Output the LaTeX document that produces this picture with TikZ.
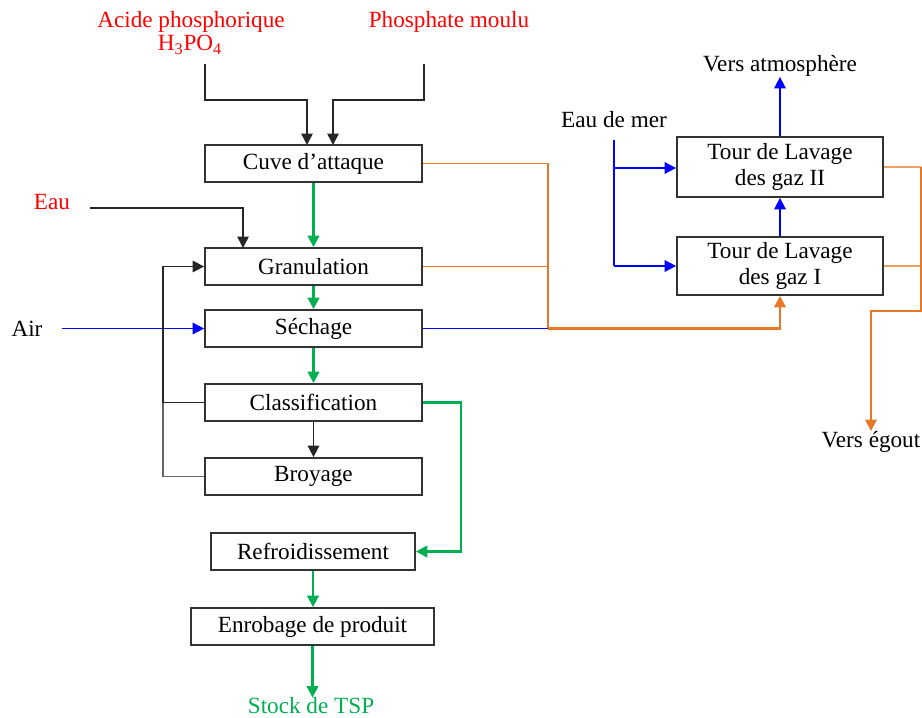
\documentclass[tikz,border=0pt]{standalone}
\usepackage{fontspec}
\setmainfont{Liberation Serif}
\usetikzlibrary{arrows.meta}
\definecolor{cgreen}{RGB}{0,176,80}
\definecolor{corange}{RGB}{230,120,40}
\definecolor{corlight}{RGB}{236,160,100}
\definecolor{cblue}{RGB}{0,0,255}
\definecolor{cred}{RGB}{255,0,0}
\tikzset{
  box/.style={draw=black!80, line width=1pt, minimum height=0.74cm, inner sep=0pt, font=\fontsize{13.2}{15}\selectfont, align=center},
  lbl/.style={inner sep=0pt, font=\fontsize{13.2}{15}\selectfont, align=center},
  tip/.style={-{Triangle[length=6.5pt,width=6.5pt]}},
  blk/.style={draw=black!85, line width=0.9pt},
  grn/.style={draw=cgreen, line width=1.5pt},
  blu/.style={draw=cblue, line width=0.9pt},
  org/.style={draw=corange, line width=0.9pt},
  orl/.style={draw=corlight, line width=1pt},
}
\begin{document}
\begin{tikzpicture}[x=0.02cm, y=-0.02cm]
\useasboundingbox (0,0) rectangle (922,717);
% boxes
\node[box, minimum width=4.34cm] (cuve) at (313.5,163.5) {Cuve d'attaque};
\node[box, minimum width=4.34cm] (gran) at (313.5,266.5) {Granulation};
\node[box, minimum width=4.34cm] (sech) at (313.5,328.5) {Séchage};
\node[box, minimum width=4.34cm] (clas) at (313.5,402.5) {Classification};
\node[box, minimum width=4.34cm] (broy) at (313.5,476.5) {Broyage};
\node[box, minimum width=4.08cm] (refr) at (313,551.5) {Refroidissement};
\node[box, minimum width=4.86cm] (enro) at (312.5,626.5) {Enrobage de produit};
\node[box, minimum width=4.12cm, minimum height=1.2cm] (t2) at (780,167) {Tour de Lavage\\des gaz II};
\node[box, minimum width=4.12cm, minimum height=1.16cm] (t1) at (780,266) {Tour de Lavage\\des gaz I};
% labels
\node[lbl, text=cred] (acide) at (191,22) {Acide phosphorique};
\node[lbl, text=cred] (h3po4) at (190,45) {H\textsubscript{3}PO\textsubscript{4}};
\node[lbl, text=cred] (phos) at (449,22) {Phosphate moulu};
\node[lbl, text=cred] (eau) at (52,202) {Eau};
\node[lbl] (air) at (27,329) {Air};
\node[lbl] (eaumer) at (614,120) {Eau de mer};
\node[lbl] (atm) at (780,66) {Vers atmosphère};
\node[lbl] (egout) at (871,442) {Vers égout};
\node[lbl, text=cgreen] (stock) at (311,706) {Stock de TSP};
% coordinates
\coordinate (a0) at (205,64);
\coordinate (p0) at (424,64);
\coordinate (e0) at (90,208);
\coordinate (air0) at (62,328.5);
% feeds to cuve
\draw[blk, tip] (a0) |- (307,100) -- (307,145);
\draw[blk, tip] (p0) |- (333,100) -- (333,145);
% eau
\draw[blk, tip] (e0) -| (243,248);
% air
\draw[blu, tip] (air0) -- (sech.west);
% main green flow
\draw[grn, tip] (cuve.south) -- (gran.north);
\draw[grn, tip] (gran.south) -- (sech.north);
\draw[grn, tip] (sech.south) -- (clas.north);
\draw[blk, tip] (clas.south) -- (broy.north);
\draw[grn, tip] (clas.east) -- (461,402.5) |- (refr.east);
\draw[grn, tip] (refr.south) -- (refr.south |- enro.north);
\draw[grn, tip] (enro.south) -- (enro.south |- stock.north);
% recycle
\draw[blk] (clas.west) -- (163,402.5);
\draw[blk, draw=black!60] (broy.west) -| (163,402.5);
\draw[blk, tip] (163,402.5) |- (gran.west);
% gases to washing
\draw[org] (cuve.east) -| (548,328);
\draw[org] (gran.east) -- (548,266.5);
\draw[blu] (sech.east) -- (548,328.5);
\draw[draw=corange, line width=1.5pt, tip] (548,328.5) -| (t1.south);
% sea water
\draw[blu] (614,140) -- (614,266);
\draw[blu, tip] (614,168) -- (t2.west |- 0,168);
\draw[blu, tip] (614,266) -- (t1.west);
\draw[blu, tip] (t1.north) -- (t2.south);
\draw[blu, tip] (t2.north) -- (atm.south);
% liquid to sewer
\draw[orl] (t2.east) -- (921,167);
\draw[orl] (t1.east) -- (921,266);
\draw[orl, draw=corange, tip] (921,167) |- (871,311) -- (egout.north);
\end{tikzpicture}
\end{document}
